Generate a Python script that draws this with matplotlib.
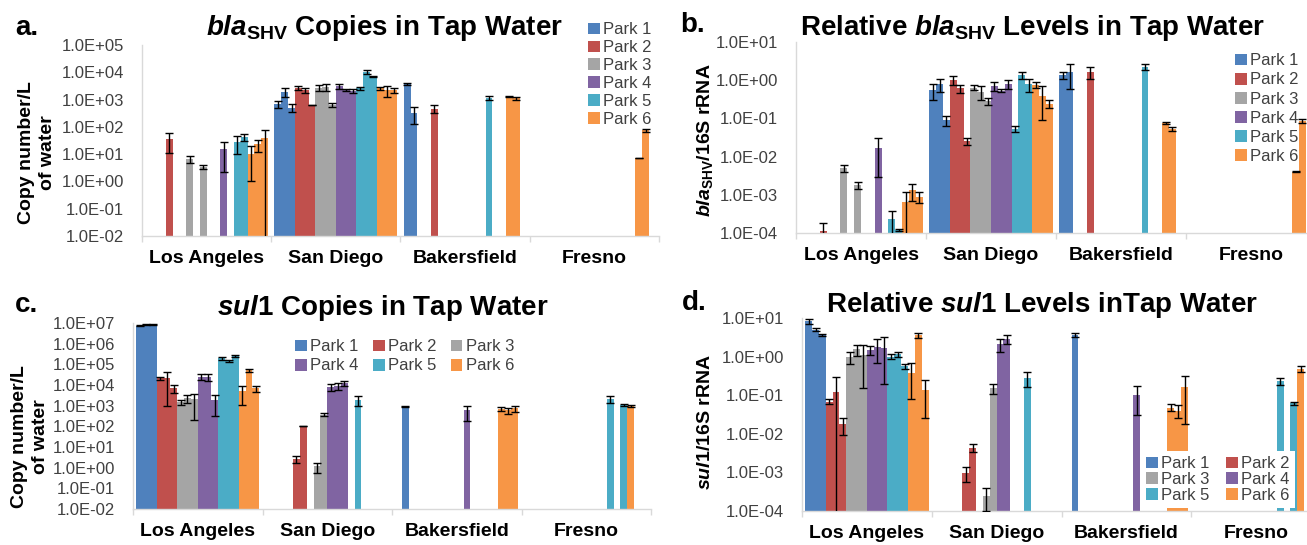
import numpy as np
import matplotlib
matplotlib.use("Agg")
import matplotlib.pyplot as plt
from matplotlib.patches import Patch

nan = np.nan

cities = ['Los Angeles', 'San Diego', 'Bakersfield', 'Fresno']
parks = ['Park 1', 'Park 2', 'Park 3', 'Park 4', 'Park 5', 'Park 6']
colors = ['#4F81BD', '#C0504D', '#A5A5A5', '#8064A2', '#4BACC6', '#F79646']

# rows = Park 1..6, columns = 3 samples per city (LA, SD, Bakersfield, Fresno)
a_val = [
    [nan, nan, nan, 710, 1900, 510, 3650, 330, nan, nan, nan, nan],
    [35, nan, nan, 2750, 2200, 620, nan, 470, nan, nan, nan, nan],
    [6.9, nan, 3.4, 2750, 2800, 620, nan, nan, nan, nan, nan, nan],
    [nan, nan, 15.3, 3100, 2200, 2100, nan, nan, nan, nan, nan, nan],
    [nan, 28, 43, 2600, 10300, 7000, 1180, nan, nan, nan, nan, nan],
    [10.5, 23, 38, 2600, 2200, 2200, 1250, 1100, nan, 7.3, 76, nan],
]
a_err = [
    [nan, nan, nan, 200, 700, 150, 300, 200, nan, nan, nan, nan],
    [24, nan, nan, 500, 400, 5, nan, 150, nan, nan, nan, nan],
    [2, nan, 0.5, 600, 800, 100, nan, nan, nan, nan, nan, nan],
    [nan, nan, 13, 700, 200, 300, nan, nan, nan, nan, nan, nan],
    [nan, 18, 13, 400, 2000, 500, 200, nan, nan, nan, nan, nan],
    [9.5, 11, 40, 300, 1000, 400, 50, 100, nan, 0.1, 10, nan],
]

b_val = [
    [nan, nan, nan, 0.55, 0.79, 0.089, 1.38, 1.6, nan, nan, nan, nan],
    [1.1e-4, nan, nan, 1.0, 0.62, 0.0255, nan, 1.65, nan, nan, nan, nan],
    [4.96e-3, nan, 1.8e-3, 0.64, 0.5, 0.28, nan, nan, nan, nan, nan, nan],
    [nan, nan, 1.65e-2, 0.71, 0.53, 0.79, nan, nan, nan, nan, nan, nan],
    [nan, 2.3e-4, 1.2e-4, 0.054, 1.38, 0.79, 2.28, nan, nan, nan, nan, nan],
    [6.3e-4, 1.3e-3, 9e-4, 0.76, 0.39, 0.245, 0.077, 0.052, nan, 4e-3, 0.085, nan],
]
b_err = [
    [nan, nan, nan, 0.25, 0.3, 0.025, 0.3, 1.0, nan, nan, nan, nan],
    [0.7e-4, nan, nan, 0.25, 0.15, 0.005, nan, 0.6, nan, nan, nan, nan],
    [1e-3, nan, 0.4e-3, 0.1, 0.2, 0.06, nan, nan, nan, nan, nan, nan],
    [nan, nan, 1.35e-2, 0.2, 0.05, 0.2, nan, nan, nan, nan, nan, nan],
    [nan, 1.5e-4, 1e-5, 0.01, 0.3, 0.3, 0.4, nan, nan, nan, nan, nan],
    [5.5e-4, 6e-4, 3e-4, 0.15, 0.3, 0.06, 0.005, 0.006, nan, 1e-4, 0.01, nan],
]

c_val = [
    [7.4e6, 8.3e6, 8.3e6, nan, nan, nan, nan, 930, nan, nan, nan, nan],
    [2.1e4, 2.1e4, 6.9e3, nan, 2.6, 100, nan, nan, nan, nan, nan, nan],
    [1450, 2350, 2000, nan, 1.16, 367, nan, nan, nan, nan, nan, nan],
    [2.5e4, 2.5e4, 1800, 8.3e3, 9e3, 1.2e4, nan, 590, nan, nan, nan, nan],
    [1.95e5, 1.5e5, 2.5e5, nan, 1950, nan, nan, nan, nan, 2100, nan, 1100],
    [5100, 5.3e4, 6900, nan, nan, nan, 690, 600, 750, 930, nan, nan],
]
c_err = [
    [5e5, 3e5, 3e5, nan, nan, nan, nan, 30, nan, nan, nan, nan],
    [3e3, 2e4, 3e3, nan, 1, 0.5, nan, nan, nan, nan, nan, nan],
    [400, 1000, 1800, nan, 0.6, 60, nan, nan, nan, nan, nan, nan],
    [8e3, 1e4, 1500, 3e3, 3e3, 3e3, nan, 400, nan, nan, nan, nan],
    [3e4, 2e4, 3e4, nan, 1000, nan, nan, nan, nan, 700, nan, 100],
    [4000, 8000, 2500, nan, nan, nan, 150, 200, 250, 100, nan, nan],
]

d_val = [
    [8.2, 5.0, 3.7, nan, nan, nan, nan, 3.7, nan, nan, nan, nan],
    [0.068, 0.122, 0.0175, nan, 9.6e-4, 4.3e-3, nan, nan, nan, nan, nan, nan],
    [1.0, 1.55, 1.1, nan, 2.5e-4, 0.15, nan, nan, nan, nan, nan, nan],
    [1.5, 1.8, 1.7, 2.1, 2.9, nan, nan, 0.1, nan, nan, nan, nan],
    [1.0, 1.15, 0.57, nan, 0.28, nan, nan, nan, nan, 0.23, nan, 0.062],
    [0.38, 3.6, 0.135, nan, nan, nan, 0.048, 0.04, 0.168, 0.49, nan, nan],
]
d_err = [
    [1, 0.5, 0.2, nan, nan, nan, nan, 0.4, nan, nan, nan, nan],
    [0.01, 0.18, 0.008, nan, 4e-4, 1e-3, nan, nan, nan, nan, nan, nan],
    [0.35, 0.5, 0.95, nan, 1.5e-4, 0.04, nan, nan, nan, nan, nan, nan],
    [0.4, 1.1, 1.5, 0.8, 0.8, nan, nan, 0.07, nan, nan, nan, nan],
    [0.15, 0.15, 0.08, nan, 0.12, nan, nan, nan, nan, 0.05, nan, 0.005],
    [0.3, 0.5, 0.11, nan, nan, nan, 0.01, 0.015, 0.15, 0.08, nan, nan],
]

plt.rcParams['font.family'] = ['Liberation Sans', 'DejaVu Sans']
plt.rcParams['mathtext.fontset'] = 'custom'
plt.rcParams['mathtext.rm'] = 'Liberation Sans:bold'
plt.rcParams['mathtext.it'] = 'Liberation Sans:italic:bold'
plt.rcParams['mathtext.bf'] = 'Liberation Sans:bold'

W, H = 1307, 545
fig = plt.figure(figsize=(W / 100, H / 100), dpi=100)

GAP = 0.025
BW = (1 - 2 * GAP) / 18
AXIS_GRAY = '#D9D9D9'
TEXT_GRAY = '#404040'


def make_axes(left, top, width, height):
    # pixel box (from top-left) -> figure fraction
    return fig.add_axes([left / W, 1 - (top + height) / H, width / W, height / H])


def draw_panel(ax, vals, errs, ymin, ymax):
    ax.set_yscale('log')
    for p in range(6):
        v = np.array(vals[p], dtype=float)
        e = np.array(errs[p], dtype=float)
        idx = np.arange(12)
        city = idx // 3
        sub = idx % 3
        x = city + GAP + (p * 3 + sub + 0.5) * BW
        ax.bar(x, v, width=BW, color=colors[p], zorder=2)
        ax.errorbar(x, v, yerr=e, fmt='none', ecolor='black', elinewidth=1,
                    capsize=3.2, capthick=1, zorder=3)
    ax.set_xlim(0, 4)
    ax.set_ylim(ymin, ymax)
    ticks = [10.0 ** k for k in range(int(np.log10(ymin)), int(np.log10(ymax)) + 1)]
    ax.set_yticks(ticks)
    ax.set_yticklabels(['%.1E' % t for t in ticks], fontsize=12, color=TEXT_GRAY)
    ax.minorticks_off()
    ax.tick_params(axis='y', length=0, pad=13)
    ax.set_xticks([0.5, 1.5, 2.5, 3.5])
    ax.set_xticklabels(cities, fontsize=14, fontweight='bold', color='black')
    ax.set_xticks([0, 1, 2, 3, 4], minor=True)
    ax.tick_params(axis='x', which='major', length=0, pad=10)
    ax.tick_params(axis='x', which='minor', length=4, width=1, color=AXIS_GRAY, direction='out')
    for s in ['top', 'right']:
        ax.spines[s].set_visible(False)
    for s in ['left', 'bottom']:
        ax.spines[s].set_color(AXIS_GRAY)
        ax.spines[s].set_linewidth(1)
    ax.patch.set_alpha(0)


handles = [Patch(facecolor=c, edgecolor='none', label=l) for c, l in zip(colors, parks)]

# panel a
ax_a = make_axes(142, 45, 517, 191)
draw_panel(ax_a, a_val, a_err, 1e-2, 1e5)
ax_a.legend(handles=handles, loc='upper left', bbox_to_anchor=(580 / W, 1 - 14 / H),
            bbox_transform=fig.transFigure, frameon=False, fontsize=12,
            handlelength=0.7, handleheight=0.7, handletextpad=0.2,
            labelspacing=0.17, borderpad=0, labelcolor=TEXT_GRAY)

# panel b
ax_b = make_axes(796, 42, 520, 191)
draw_panel(ax_b, b_val, b_err, 1e-4, 1e1)
ax_b.legend(handles=handles, loc='upper left', bbox_to_anchor=(1227 / W, 1 - 45 / H),
            bbox_transform=fig.transFigure, frameon=False, fontsize=12,
            handlelength=0.7, handleheight=0.7, handletextpad=0.2,
            labelspacing=0.25, borderpad=0, labelcolor=TEXT_GRAY)

# panel c
ax_c = make_axes(133, 323, 518, 186)
draw_panel(ax_c, c_val, c_err, 1e-2, 1e7)
order_c = [0, 3, 1, 4, 2, 5]
ax_c.legend(handles=[handles[i] for i in order_c], ncol=3, loc='upper left',
            bbox_to_anchor=(287 / W, 1 - 331 / H), bbox_transform=fig.transFigure,
            frameon=False, fontsize=12, handlelength=0.7, handleheight=0.7,
            handletextpad=0.2, labelspacing=0.25, columnspacing=0.85,
            borderpad=0, labelcolor=TEXT_GRAY)

# panel d
ax_d = make_axes(802, 318, 519, 193)
draw_panel(ax_d, d_val, d_err, 1e-4, 1e1)
order_d = [0, 2, 4, 1, 3, 5]
leg = ax_d.legend(handles=[handles[i] for i in order_d], ncol=2, loc='upper left',
                  bbox_to_anchor=(1133 / W, 1 - 443 / H), bbox_transform=fig.transFigure,
                  frameon=True, fancybox=False, facecolor='white', edgecolor='none',
                  framealpha=1, fontsize=12, handlelength=0.7, handleheight=0.7,
                  handletextpad=0.2, labelspacing=0.05, columnspacing=1.0,
                  borderpad=0.3, labelcolor=TEXT_GRAY)
leg.set_zorder(10)

# y labels
fig.text(37 / W, 1 - 153 / H, 'Copy number/L\nof water', rotation=90, ha='center',
         va='center', fontsize=14, fontweight='bold', linespacing=1.25)
fig.text(705 / W, 1 - 140 / H, r'$\mathit{bla}_{\mathrm{SHV}}$/16S rRNA', rotation=90,
         ha='center', va='center', fontsize=14, fontweight='bold')
fig.text(30 / W, 1 - 437 / H, 'Copy number/L\nof water', rotation=90, ha='center',
         va='center', fontsize=14, fontweight='bold', linespacing=1.25)
fig.text(706 / W, 1 - 422 / H, r'$\mathit{sul}$1/16S rRNA', rotation=90,
         ha='center', va='center', fontsize=14, fontweight='bold')

# titles
fig.text(384 / W, 1 - 28 / H, r'$\mathit{bla}_{\mathrm{SHV}}$ Copies in Tap Water',
         ha='center', va='center', fontsize=20, fontweight='bold')
fig.text(1032 / W, 1 - 28 / H, r'Relative $\mathit{bla}_{\mathrm{SHV}}$ Levels in Tap Water',
         ha='center', va='center', fontsize=20, fontweight='bold')
fig.text(383 / W, 1 - 308 / H, r'$\mathit{sul}$1 Copies in Tap Water',
         ha='center', va='center', fontsize=20, fontweight='bold')
fig.text(1042 / W, 1 - 305 / H, r'Relative $\mathit{sul}$1 Levels inTap Water',
         ha='center', va='center', fontsize=20, fontweight='bold')

# panel letters
for lx, ly, lt in [(15, 28, 'a.'), (680, 25, 'b.'), (15, 305, 'c.'), (682, 303, 'd.')]:
    fig.text(lx / W, 1 - ly / H, lt, ha='left', va='center', fontsize=20, fontweight='bold')

fig.savefig('out.png', dpi=100)
